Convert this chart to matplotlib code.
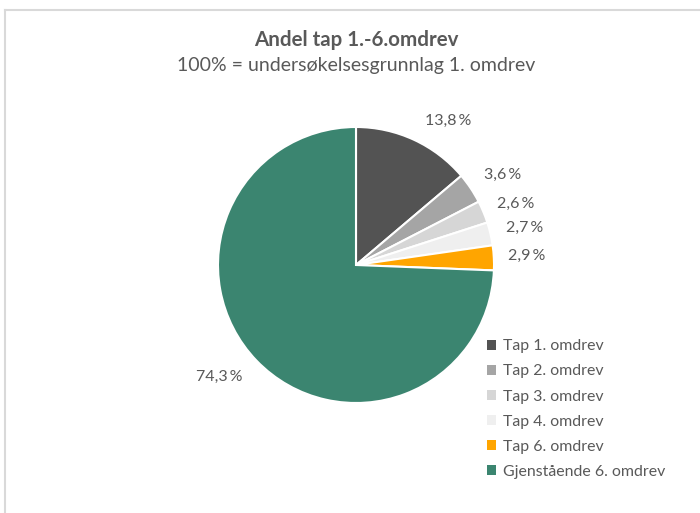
import matplotlib.pyplot as plt
import numpy as np
from matplotlib.lines import Line2D
from matplotlib.patches import Patch

plt.rcParams["font.family"] = ["Lato", "DejaVu Sans"]

categories = [
    "Tap 1. omdrev",
    "Tap 2. omdrev",
    "Tap 3. omdrev",
    "Tap 4. omdrev",
    "Tap 6. omdrev",
    "Gjenstående 6. omdrev",
]
shares = [13.8, 3.6, 2.6, 2.7, 2.9, 74.3]
colors = ["#535353", "#a5a5a5", "#d6d6d6", "#efefef", "#ffa500", "#3b8570"]

# label placement: radius factor and angle nudge (deg) off the wedge middle
label_dist = [1.24, 1.25, 1.24, 1.25, 1.24, 1.28]
label_nudge = [-7.6, -2.3, -1.8, -0.7, 0.0, -4.5]

text_color = "#595959"

W, H = 700, 513
fig = plt.figure(figsize=(W / 100, H / 100), dpi=100)

# pie placed by pixel centre and radius
cx, cy, r = 356, 265, 138
ax = fig.add_axes([(cx - r) / W, (H - cy - r) / H, 2 * r / W, 2 * r / H])
wedges, _ = ax.pie(
    shares,
    colors=colors,
    startangle=90,
    counterclock=False,
    radius=1.0,
    wedgeprops=dict(edgecolor="white", linewidth=1.5),
)
ax.set_xlim(-1, 1)
ax.set_ylim(-1, 1)
ax.set_aspect("equal")
ax.axis("off")

for w, val, d, nudge in zip(wedges, shares, label_dist, label_nudge):
    ang = np.deg2rad((w.theta1 + w.theta2) / 2 + nudge)
    ax.text(
        d * np.cos(ang), d * np.sin(ang),
        f"{val:.1f}".replace(".", ",") + "\u2009%",
        ha="center", va="center", fontsize=11.5, color=text_color,
        clip_on=False,
    )

fig.text(356 / W, 1 - 40 / H, "Andel tap 1.-6.omdrev", ha="center", va="center",
         fontsize=14.8, fontweight="bold", color=text_color)
fig.text(356 / W, 1 - 66 / H, "100% = undersøkelsesgrunnlag 1. omdrev", ha="center",
         va="center", fontsize=14, color=text_color)

handles = [Patch(facecolor=c, edgecolor="none") for c in colors]
fig.legend(
    handles, categories,
    loc="upper left", bbox_to_anchor=(481 / W, 1 - 333 / H),
    frameon=False, fontsize=11.4, labelcolor=text_color,
    handlelength=0.55, handleheight=0.55, handletextpad=0.45,
    labelspacing=0.7, borderaxespad=0,
)

# light frame from the cropped screenshot (left and top edges)
fig.add_artist(Line2D([5 / W, 5 / W], [0, 1 - 10 / H], color="#d9d9d9", lw=1.5,
                      transform=fig.transFigure))
fig.add_artist(Line2D([5 / W, 1], [1 - 10 / H, 1 - 10 / H], color="#d9d9d9", lw=1.5,
                      transform=fig.transFigure))

fig.savefig("out.png", dpi=100)
